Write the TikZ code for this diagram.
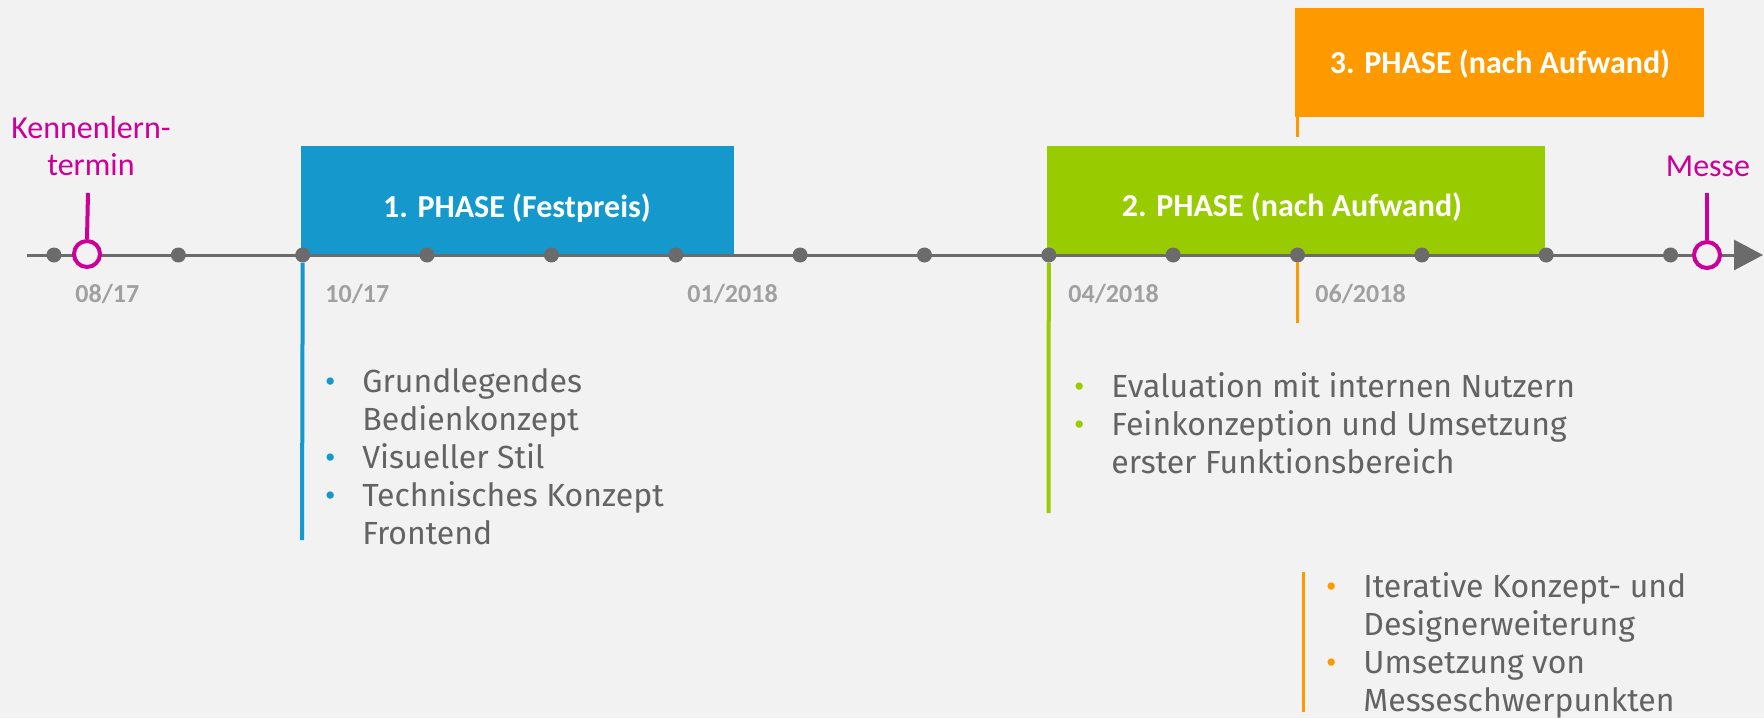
\documentclass[tikz,border=0pt]{standalone}
\usepackage{fontspec}
\setmainfont{Carlito}
\newfontfamily\listfont{Fira Sans}
\usetikzlibrary{arrows.meta}
\definecolor{bg}{HTML}{F2F2F2}
\definecolor{axisgray}{HTML}{6B6B6B}
\definecolor{dategray}{HTML}{A0A0A0}
\definecolor{txtgray}{HTML}{636363}
\definecolor{pblue}{HTML}{1599CC}
\definecolor{pgreen}{HTML}{99CC00}
\definecolor{porange}{HTML}{FF9900}
\definecolor{pmag}{HTML}{CC0099}
\newcommand{\bl}[1]{\llap{\textcolor{#1}{\textbullet}\hspace{13.5pt}}}
\begin{document}
\begin{tikzpicture}[x=0.5pt,y=-0.5pt,
  dotnode/.style={circle, fill=axisgray, minimum size=7.5pt, inner sep=0pt},
  milestone/.style={circle, draw=pmag, line width=2pt, fill=bg, minimum size=13pt, inner sep=0pt},
  stem/.style={pmag, line width=2pt},
  phasebox/.style={anchor=north west, inner sep=0pt, draw=none},
  phasetxt/.style={text=white, font=\bfseries\fontsize{16pt}{19pt}\selectfont, inner sep=0pt},
  datelbl/.style={anchor=west, text=dategray, font=\bfseries\fontsize{13pt}{15pt}\selectfont, inner sep=0pt},
  magtxt/.style={text=pmag, font=\fontsize{16pt}{18.5pt}\selectfont, align=center, inner sep=0pt},
  vline/.style={line width=2pt},
  lst/.style={anchor=base west, inner sep=0pt, text=txtgray, font=\listfont\fontsize{16pt}{19pt}\selectfont}
]
\useasboundingbox[fill=bg] (0,0) rectangle (1764,718);

% phase boxes
\node[phasebox, fill=pblue, minimum width=216.5pt, minimum height=54.5pt] (p1) at (301,146) {};
\node[phasebox, fill=pgreen, minimum width=249pt, minimum height=54.5pt] (p2) at (1047,146) {};
\node[phasebox, fill=porange, minimum width=204.5pt, minimum height=54.5pt] (p3) at (1295,8) {};
\node[phasetxt] (p1t) at (517,208) {1. PHASE (Festpreis)};
\node[phasetxt] (p2t) at (1292,207) {2. PHASE (nach Aufwand)};
\node[phasetxt] (p3t) at (1500,64) {3. PHASE (nach Aufwand)};
\coordinate (o3a) at (1297,17);
\coordinate (o3b) at (1297,137);
\draw[porange, line width=1.5pt] (o3a) -- (o3b);

% axis
\coordinate (axstart) at (27,255);
\coordinate (axend) at (1763,255);
\draw[axisgray, line width=1.5pt, -{Triangle[length=14.5pt, width=15pt]}] (axstart) -- (axend);
\foreach \i in {0,...,13} \node[dotnode] (d\i) at ({54+124.35*\i},255) {};

% vertical phase lines
\coordinate (b1end) at (302,540);
\coordinate (g1end) at (1048.5,513);
\coordinate (o1a) at (1297,262);
\coordinate (o1b) at (1297,323);
\draw[pblue, vline] (d2.south) -- (b1end);
\draw[pgreen, vline] (d8.south) -- (g1end);
\draw[porange, line width=1.5pt] (o1a) -- (o1b);

% milestones
\node[milestone] (km) at (87,254) {};
\node[milestone] (mm) at (1707,255) {};
\coordinate (kmtop) at (88,193);
\coordinate (mmtop) at (1707,193);
\draw[stem] (kmtop) -- (km.north);
\draw[stem] (mmtop) -- (mm.north);
\node[magtxt] (kmt) at (91,146) {Kennenlern-\\termin};
\node[magtxt] (mmt) at (1708,166) {Messe};

% date labels
\node[datelbl] (l0817) at (75,294) {08/17};
\node[datelbl] (l1017) at (325,294) {10/17};
\node[datelbl] (l0118) at (687,294) {01/2018};
\node[datelbl] (l0418) at (1068,294) {04/2018};
\node[datelbl] (l0618) at (1315,294) {06/2018};

% lists
\node[lst] (list1) at (362,392) {\begin{tabular}[t]{@{}l@{}}\bl{pblue}Grundlegendes\\ Bedienkonzept\\ \bl{pblue}Visueller Stil\\ \bl{pblue}Technisches Konzept\\ Frontend\end{tabular}};
\node[lst] (list2) at (1111,397) {\begin{tabular}[t]{@{}l@{}}\bl{pgreen}Evaluation mit internen Nutzern\\ \bl{pgreen}Feinkonzeption und Umsetzung\\ erster Funktionsbereich\end{tabular}};
\coordinate (o2a) at (1303,572);
\coordinate (o2b) at (1303,712);
\draw[porange, line width=1.5pt] (o2a) -- (o2b);
\node[lst] (list3) at (1363,597) {\begin{tabular}[t]{@{}l@{}}\bl{porange}Iterative Konzept- und\\ Designerweiterung\\ \bl{porange}Umsetzung von\\ Messeschwerpunkten\end{tabular}};
\end{tikzpicture}
\end{document}
